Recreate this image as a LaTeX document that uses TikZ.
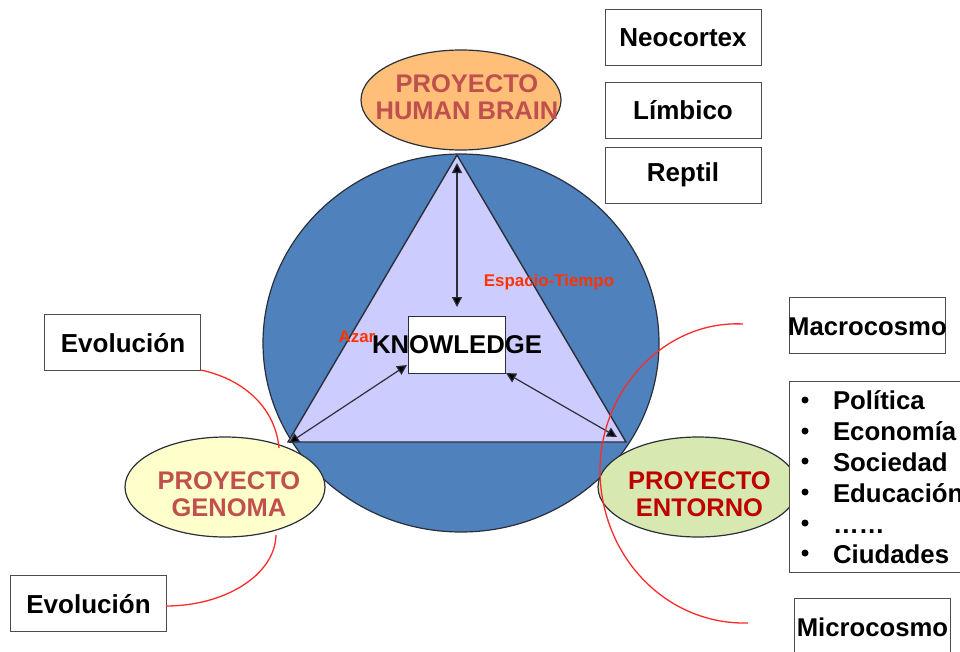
\documentclass[tikz,border=0pt]{standalone}
\usepackage{fontspec}
\setmainfont{Liberation Sans}
\usetikzlibrary{arrows.meta,shapes.geometric}
\definecolor{cblue}{HTML}{4F81BD}
\definecolor{ctri}{HTML}{CCCCFF}
\definecolor{corange}{HTML}{FFBF78}
\definecolor{cyellow}{HTML}{FFFFCC}
\definecolor{cgreen}{HTML}{D7E9B0}
\definecolor{cbrick}{HTML}{C0504D}
\definecolor{cdeep}{HTML}{C00000}
\definecolor{cred}{HTML}{FF3300}
\definecolor{cline}{HTML}{FF2A2A}
\definecolor{cedge}{HTML}{2A2F3A}
\tikzset{
  every node/.style={inner sep=0pt,outer sep=0pt},
  oval/.style={ellipse,draw=cedge,line width=1.2pt,minimum width=200pt,minimum height=100pt},
  infobox/.style={rectangle,draw=black!70,line width=1pt,fill=white,minimum width=156pt,minimum height=56pt},
  boxtext/.style={font=\bfseries\fontsize{26}{28}\selectfont,text=black},
  widetext/.style={font=\bfseries\fontsize{25.7}{28}\selectfont,text=black},
  ovaltext/.style={font=\bfseries\fontsize{25.5}{26.5}\selectfont,align=center},
  smalllabel/.style={font=\bfseries\fontsize{16.9}{19}\selectfont,text=cred},
  link/.style={draw=cedge,line width=1.2pt,{Triangle[length=10pt,width=10pt,fill=black]}-{Triangle[length=10pt,width=10pt,fill=black]}},
  curveline/.style={draw=cline,line width=1.3pt},
  listitem/.style={anchor=base west,font=\bfseries\fontsize{25.8}{28}\selectfont},
  bulletmark/.style={circle,fill=black,minimum size=7pt}
}
\begin{document}
\begin{tikzpicture}[x=1pt,y=-1pt]
\useasboundingbox (0,0) rectangle (960,651);
% main disc and triangle
\node[ellipse,draw=cedge,line width=1.2pt,fill=cblue,minimum width=396pt,minimum height=378pt] (disc) at (461,343) {};
\node[oval,fill=corange] (brain) at (461,100) {};
\node[oval,fill=cyellow] (genoma) at (225,487) {};
\node[oval,fill=cgreen] (entorno) at (698,487) {};
\coordinate (apex) at (457,155);
\coordinate (tl) at (288,442);
\coordinate (tr) at (626,442);
\draw[fill=ctri,draw=cedge,line width=1.4pt,line join=miter] (apex) -- (tl) -- (tr) -- cycle;
% central box
\node[rectangle,draw=cedge,line width=1pt,fill=white,minimum width=97pt,minimum height=57pt] (kb) at (456.5,344.5) {};
\coordinate (apexin) at (457,163);
\coordinate (kbtop) at (457,307);
\coordinate (tlin) at (289,443);
\coordinate (trin) at (617,437);
\coordinate (kbl) at (407,365);
\coordinate (kbr) at (506,373);
\draw[link] (apexin) -- (kbtop);
\draw[link] (tlin) -- (kbl);
\draw[link] (kbr) -- (trin);
% labels
\node[widetext] (kt) at (457,345) {KNOWLEDGE};
\node[smalllabel] (et) at (549,282) {Espacio-Tiempo};
\node[smalllabel] (az) at (357,337) {Azar};
\node[ovaltext,text=cbrick] (bt) at (467,97) {PROYECTO\\HUMAN BRAIN};
\node[ovaltext,text=cbrick] (gt) at (229,494) {PROYECTO\\GENOMA};
\node[ovaltext,text=cdeep] (nt) at (699.5,494) {PROYECTO\\ENTORNO};
% boxes
\node[infobox] (neo) at (683,37) {};
\node[boxtext] at (683,38) {Neocortex};
\node[infobox] (lim) at (683,110) {};
\node[boxtext] at (683,110.5) {Límbico};
\node[infobox] (rep) at (683,175) {};
\node[boxtext] at (683,175) {Reptil};
\node[infobox] (evo1) at (122.5,342) {};
\node[boxtext] at (123,343) {Evolución};
\node[infobox] (evo2) at (88,603) {};
\node[boxtext] at (88.5,604) {Evolución};
\node[infobox] (macro) at (867,325) {};
\node[widetext] at (867.5,326.5) {Macrocosmo};
\node[infobox] (micro) at (872,626) {};
\node[widetext] at (872.5,627.5) {Microcosmo};
% list
\node[rectangle,draw=black!70,line width=1pt,fill=white,minimum width=200pt,minimum height=191pt] (lst) at (889,476.5) {};
\node[bulletmark] at (805,400) {};
\node[listitem] at (833,409) {Política};
\node[bulletmark] at (805,431) {};
\node[listitem] at (833,440) {Economía};
\node[bulletmark] at (805,461) {};
\node[listitem] at (833,471) {Sociedad};
\node[bulletmark] at (805,492) {};
\node[listitem] at (833,502) {Educación};
\node[bulletmark] at (805,523) {};
\node[listitem] at (833,533) {……};
\node[bulletmark] at (805,553) {};
\node[listitem] at (833,563) {Ciudades};
% red curves
\coordinate (c1) at (743,324);
\coordinate (c2) at (748,623);
\coordinate (g1) at (279,448);
\coordinate (g2) at (276,535);
\draw[curveline] (c1) .. controls (665,320) and (600,390) .. (600,470) .. controls (600,555) and (665,625) .. (c2);
\draw[curveline] (evo1.south east) .. controls (240,378) and (275,405) .. (g1);
\draw[curveline] (g2) .. controls (275,575) and (225,606) .. (evo2.east |- 0,606);
\end{tikzpicture}
\end{document}
